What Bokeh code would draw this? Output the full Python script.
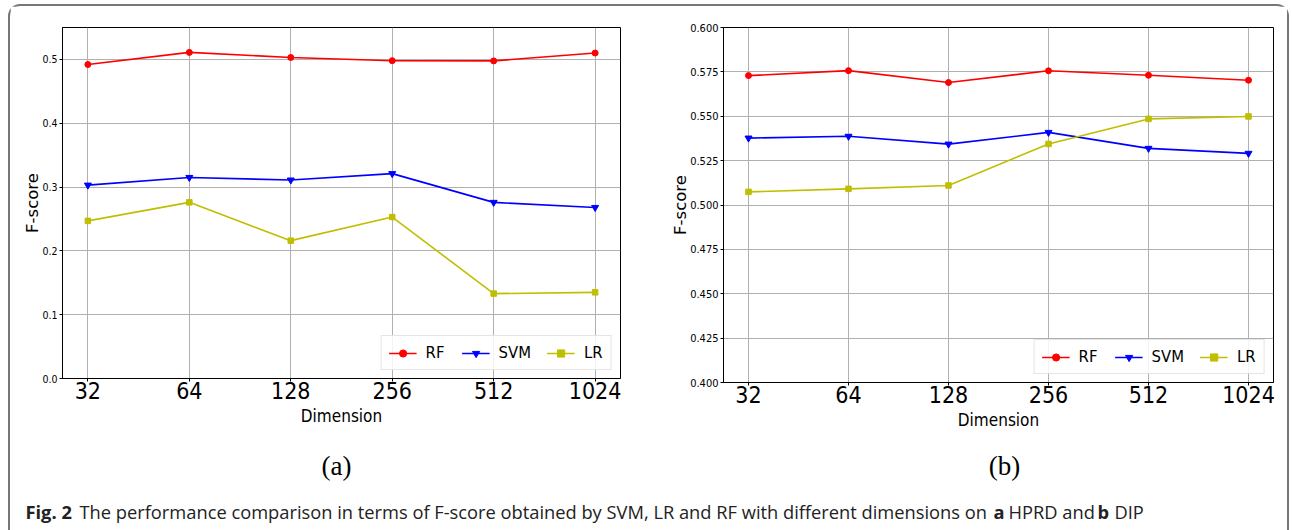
from bokeh.plotting import figure
from bokeh.layouts import column, row
from bokeh.models import (FixedTicker, Legend, LegendItem, ColumnDataSource,
                          Range1d)
from bokeh.embed import file_html
from bokeh.resources import INLINE
from bokeh.core.properties import value

# ---------------- data ----------------
dims = ["32", "64", "128", "256", "512", "1024"]
x_idx = list(range(len(dims)))

hprd_rf = [0.492, 0.511, 0.503, 0.498, 0.4977, 0.510]
hprd_svm = [0.303, 0.315, 0.311, 0.321, 0.276, 0.268]
hprd_lr = [0.247, 0.276, 0.216, 0.253, 0.133, 0.135]

dip_rf = [0.5729, 0.5757, 0.5690, 0.5756, 0.5731, 0.5703]
dip_svm = [0.5377, 0.5387, 0.5343, 0.5409, 0.5319, 0.5291]
dip_lr = [0.5074, 0.5091, 0.5110, 0.5344, 0.5485, 0.5499]

hprd_yticks = [0.0, 0.1, 0.2, 0.3, 0.4, 0.5]
hprd_ylabels = ["0.0", "0.1", "0.2", "0.3", "0.4", "0.5"]
dip_yticks = [0.4, 0.425, 0.45, 0.475, 0.5, 0.525, 0.55, 0.575, 0.6]
dip_ylabels = ["0.400", "0.425", "0.450", "0.475", "0.500", "0.525",
               "0.550", "0.575", "0.600"]

series_names = ["RF", "SVM", "LR"]
series_colors = ["#ff0000", "#0000ff", "#bfbf00"]
series_markers = ["circle", "inverted_triangle", "square"]
series_sizes = [6, 7, 5.5]

NARROW = "Liberation Sans Narrow, DejaVu Sans Condensed, sans-serif"
WIDE = "DejaVu Sans, sans-serif"


def make_panel(ys, yticks, ylabels, yrange, fw, fh, mb_left, mb_right,
               mb_top, mb_bottom, ytick_size):
    p = figure(frame_width=fw, frame_height=fh, output_backend="svg",
               toolbar_location=None, x_range=Range1d(-0.25, 5.25),
               y_range=Range1d(*yrange), min_border_left=mb_left,
               min_border_right=mb_right, min_border_top=mb_top,
               min_border_bottom=mb_bottom)
    p.background_fill_color = "white"
    p.border_fill_color = "white"
    p.outline_line_color = "black"
    p.outline_line_width = 1

    items = []
    for y, name, c, m, s in zip(ys, series_names, series_colors,
                                series_markers, series_sizes):
        src = ColumnDataSource(dict(x=x_idx, y=y))
        ln = p.line("x", "y", source=src, line_color=c, line_width=1.6)
        sc = p.scatter("x", "y", source=src, marker=m, size=s,
                       fill_color=c, line_color=c)
        items.append(LegendItem(label=name, renderers=[ln, sc]))

    xa = p.xaxis[0]
    xa.ticker = FixedTicker(ticks=x_idx)
    xa.major_label_overrides = {i: d for i, d in zip(x_idx, dims)}
    xa.minor_tick_line_color = None
    xa.major_tick_in = 0
    xa.major_tick_out = 3
    xa.major_label_standoff = 0
    xa.major_label_text_font = NARROW
    xa.major_label_text_font_size = "23px"
    xa.major_label_text_color = "black"
    xa.axis_label = "Dimension"
    xa.axis_label_text_font = NARROW
    xa.axis_label_text_font_size = "17px"
    xa.axis_label_text_font_style = "normal"
    xa.axis_label_text_color = "black"
    xa.axis_label_standoff = 4
    xa.axis_line_color = "black"

    ya = p.yaxis[0]
    ya.ticker = FixedTicker(ticks=yticks)
    ya.major_label_overrides = {t: l for t, l in zip(yticks, ylabels)}
    ya.minor_tick_line_color = None
    ya.major_tick_in = 0
    ya.major_tick_out = 3
    ya.major_label_standoff = 2
    ya.major_label_text_font = NARROW
    ya.major_label_text_font_size = ytick_size
    ya.major_label_text_color = "black"
    ya.axis_label = "F-score"
    ya.axis_label_text_font = WIDE
    ya.axis_label_text_font_size = "16.5px"
    ya.axis_label_text_font_style = "normal"
    ya.axis_label_text_color = "black"
    ya.axis_label_standoff = -3
    ya.axis_line_color = "black"

    for g in (p.xgrid[0], p.ygrid[0]):
        g.grid_line_color = "#b0b0b0"
        g.grid_line_width = 1

    leg = Legend(items=items, orientation="horizontal",
                 location="bottom_right")
    leg.margin = 8
    leg.padding = 7
    leg.spacing = 16
    leg.glyph_width = 28
    leg.glyph_height = 18
    leg.label_height = 18
    leg.label_standoff = 9
    leg.label_text_font = NARROW
    leg.label_text_font_size = "16.5px"
    leg.label_text_color = "black"
    leg.border_line_color = "#cccccc"
    leg.border_line_width = 1
    leg.background_fill_alpha = 0.85
    p.add_layout(leg)
    return p


pa = make_panel([hprd_rf, hprd_svm, hprd_lr], hprd_yticks, hprd_ylabels,
                (0.0, 0.55), 558, 351, 52, 30, 21, 68, "10.5px")
pb = make_panel([dip_rf, dip_svm, dip_lr], dip_yticks, dip_ylabels,
                (0.4, 0.6), 550, 355, 73, 14, 21, 64, "11px")

# ---------------- caption area ----------------
cap = figure(width=1277, height=84, output_backend="svg",
             toolbar_location=None, x_range=Range1d(10, 1287),
             y_range=Range1d(530, 446), min_border=0,
             x_axis_location=None, y_axis_location=None)
cap.grid.visible = False
cap.outline_line_color = None
cap.background_fill_color = "white"
cap.border_fill_color = "white"

sub_labels = ["(a)", "(b)"]
cap.text(x=[336, 1004], y=[465, 465], text=sub_labels,
         text_font=value("Liberation Serif"), text_font_size="27px",
         text_align="center", text_baseline="middle", text_color="black")

cap_pieces = ["Fig. 2",
              "The performance comparison in terms of F-score obtained by "
              "SVM, LR and RF with different dimensions on",
              "a", "HPRD and", "b", "DIP"]
cap_x = [25, 79, 993, 1008, 1097, 1114]
cap_bold = [True, False, True, False, True, False]
for t, xx, b in zip(cap_pieces, cap_x, cap_bold):
    cap.text(x=[xx], y=[511], text=[t], text_font=value("Open Sans"),
             text_font_size="18.3px",
             text_font_style="bold" if b else "normal",
             text_align="left", text_baseline="middle",
             text_color="#222222")

layout = column(row(pa, pb, spacing=0), cap, spacing=0,
                margin=(4, 0, 0, 8),
                styles={"border-top": "2px solid #777777",
                        "border-left": "2px solid #777777",
                        "border-right": "2px solid #777777",
                        "border-top-left-radius": "12px",
                        "border-top-right-radius": "12px"})

open("out.html", "w").write(file_html(layout, INLINE))
